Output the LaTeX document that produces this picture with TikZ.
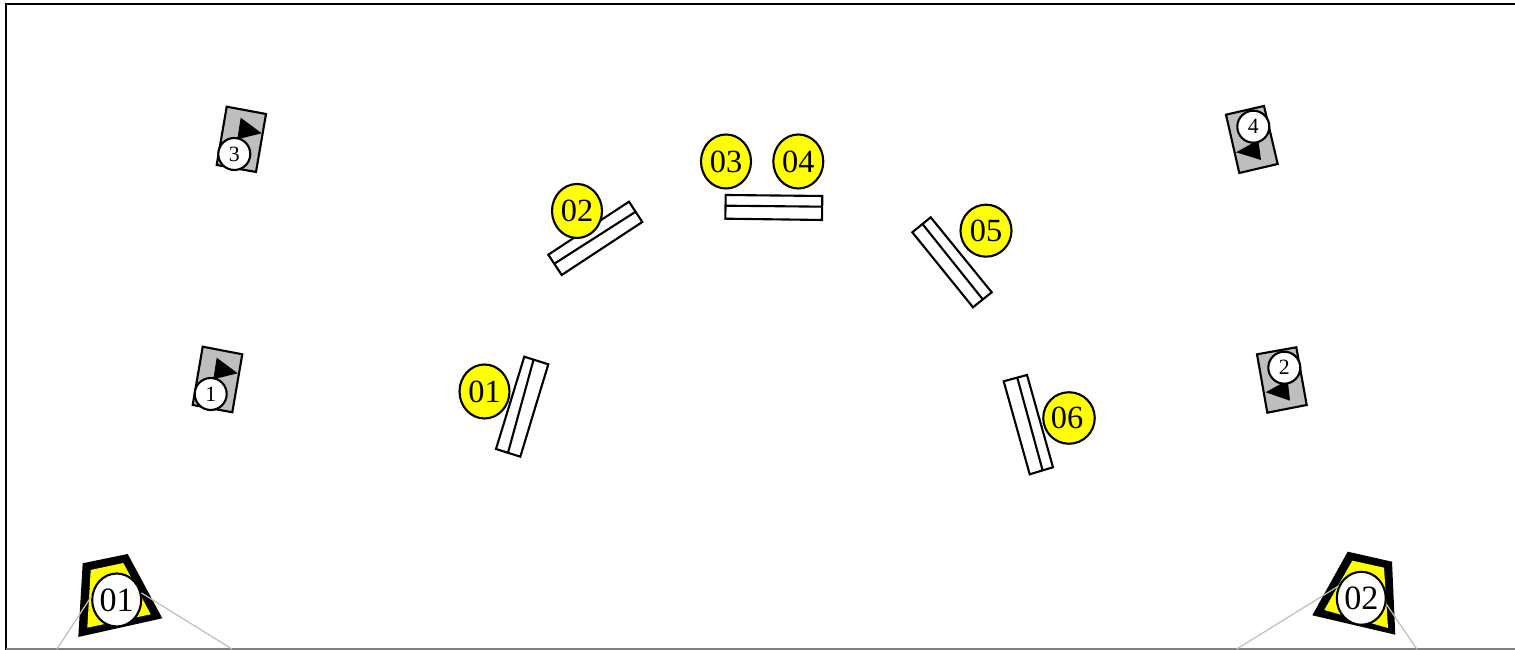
\documentclass[tikz,border=0pt]{standalone}
\usepackage{fontspec}
\setmainfont{Liberation Serif}
\usetikzlibrary{shapes.geometric}
\definecolor{spotyel}{RGB}{255,255,0}
\definecolor{boxgrey}{RGB}{190,190,190}
\tikzset{
  frameln/.style={line width=0.6pt,black},
  beam/.style={black!25,line width=0.35pt},
  panel/.style={draw=black,line width=0.6pt,line join=miter},
  greybox/.style={panel,fill=boxgrey},
  yelspot/.style={ellipse,draw=black,line width=0.6pt,fill=spotyel,inner sep=0pt,minimum width=0.5cm,minimum height=0.54cm,font=\fontsize{9.2}{10}\selectfont},
  spk/.style={ellipse,draw=black,line width=0.6pt,fill=white,inner sep=0pt,minimum width=0.49cm,minimum height=0.53cm,font=\fontsize{9.7}{10}\selectfont},
  tagno/.style={circle,draw=black,line width=0.6pt,fill=white,inner sep=0pt,minimum size=0.32cm,font=\fontsize{6.2}{7}\selectfont},
}
\begin{document}
\begin{tikzpicture}
\useasboundingbox (0,0) rectangle (15.15,6.5);
% frame
\draw[frameln] (0.056,0) -- (0.056,6.458) -- (15.15,6.458);
\draw[gray,line width=0.35pt] (0.056,0.01) -- (15.15,0.01);
% grey boxes
\draw[greybox] (2.267,5.433) -- (2.66,5.36) -- (2.56,4.78) -- (2.167,4.85) -- cycle;
\fill (2.407,5.323) -- (2.617,5.167) -- (2.373,5.107) -- cycle;
\node[tagno] (tag3) at (2.343,4.96) {3};
\draw[greybox] (2.027,3.033) -- (2.423,2.957) -- (2.323,2.377) -- (1.927,2.45) -- cycle;
\fill (2.167,2.923) -- (2.377,2.767) -- (2.133,2.707) -- cycle;
\node[tagno] (tag1) at (2.107,2.56) {1};
\draw[greybox] (12.26,5.353) -- (12.64,5.44) -- (12.777,4.86) -- (12.393,4.77) -- cycle;
\fill (12.36,4.977) -- (12.61,4.90) -- (12.583,5.10) -- cycle;
\node[tagno] (tag4) at (12.533,5.233) {4};
\draw[greybox] (12.57,2.957) -- (12.963,3.027) -- (13.067,2.45) -- (12.673,2.373) -- cycle;
\fill (12.657,2.577) -- (12.90,2.493) -- (12.877,2.70) -- cycle;
\node[tagno] (tag2) at (12.843,2.823) {2};
% panels
\draw[panel] (5.243,2.933) -- (5.483,2.857) -- (5.203,1.933) -- (4.96,2.01) -- cycle (5.333,2.893) -- (5.08,1.973);
\draw[panel] (6.29,4.483) -- (6.423,4.28) -- (5.617,3.75) -- (5.483,3.953) -- cycle (5.55,3.867) -- (6.357,4.383);
\draw[panel] (7.257,4.55) -- (8.223,4.54) -- (8.22,4.30) -- (7.253,4.313) -- cycle (7.257,4.443) -- (8.223,4.433);
\draw[panel] (9.307,4.327) -- (9.917,3.577) -- (9.73,3.427) -- (9.123,4.177) -- cycle (9.227,4.257) -- (9.827,3.507);
\draw[panel] (10.27,2.75) -- (10.53,1.827) -- (10.297,1.757) -- (10.037,2.687) -- cycle (10.173,2.723) -- (10.427,1.793);
\node[yelspot] (yel01) at (4.845,2.585) {01};
\node[yelspot] (yel02) at (5.77,4.39) {02};
\node[yelspot] (yel03) at (7.26,4.885) {03};
\node[yelspot] (yel04) at (7.983,4.885) {04};
\node[yelspot,minimum width=0.51cm,minimum height=0.52cm] (yel05) at (9.86,4.193) {05};
\node[yelspot,minimum width=0.515cm,minimum height=0.515cm] (yel06) at (10.69,2.32) {\kern-1.1pt\raisebox{-0.8pt}{06}};
% speakers
\fill (0.827,0.867) -- (1.277,0.96) -- (1.623,0.317) -- (0.783,0.13) -- cycle;
\fill[spotyel] (0.907,0.80) -- (1.233,0.87) -- (1.507,0.357) -- (0.873,0.223) -- cycle;
\node[spk] (spk01) at (1.167,0.50) {01};
\fill (13.477,0.983) -- (13.92,0.883) -- (13.953,0.153) -- (13.123,0.347) -- cycle;
\fill[spotyel] (13.523,0.893) -- (13.84,0.823) -- (13.88,0.22) -- (13.243,0.40) -- cycle;
\node[spk] (spk02) at (13.613,0.517) {02};
% beams
\coordinate (b1l) at (0.57,0.01);
\coordinate (b1r) at (2.32,0.01);
\coordinate (b2l) at (12.367,0.01);
\coordinate (b2r) at (14.167,0.01);
\draw[beam] (spk01.172) -- (b1l);
\draw[beam] (spk01.16) -- (b1r);
\draw[beam] (spk02.152) -- (b2l);
\draw[beam] (spk02.-13) -- (b2r);
\end{tikzpicture}
\end{document}
